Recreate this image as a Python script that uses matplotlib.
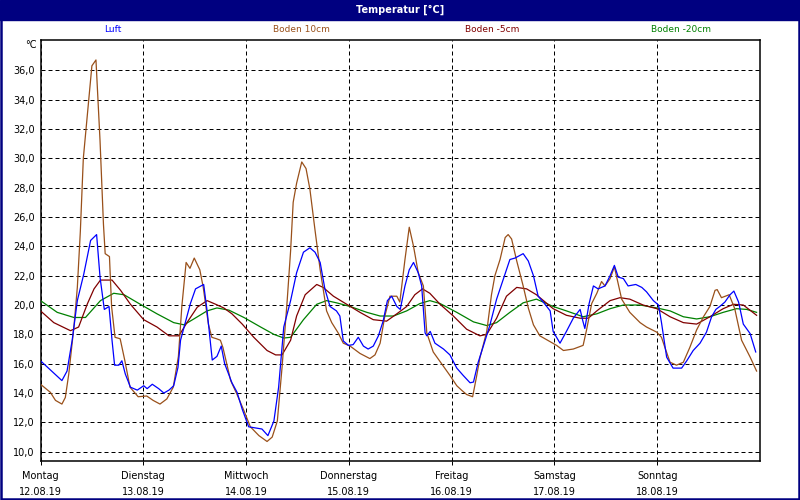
import matplotlib
matplotlib.use("Agg")
import matplotlib.pyplot as plt
from matplotlib.patches import Rectangle

# hours since Monday 12.08.19 00:00 and temperatures in degC
luft_h = [0, 5, 6.2, 7.4, 8.6, 10.1, 11.7, 13.1, 13.9, 14.9, 16, 16.7, 17.3, 18.3, 19, 19.8, 21, 22.6,
          24.1, 24.9, 26.1, 27.6, 28.8, 30, 31.1, 32.1, 32.7, 33.9, 35, 36.2, 38.1, 38.9, 40.1, 41.2,
          42.2, 43, 44.7, 45.9, 47.1, 48.6, 51.7, 53.1, 54.5, 55.6, 56.8, 58.4, 59.8, 61.4, 62.9, 64.1,
          65.3, 66.4, 67.6, 69.1, 69.9, 70.7, 71.9, 73, 74.2, 75.4, 76.5, 77.7, 78.9, 80, 81, 82, 83.2,
          84, 85.1, 86.1, 87.1, 88.2, 89, 89.8, 90.2, 91, 92.1, 94.1, 95.6, 97.2, 98.7, 100.3, 101.1,
          102.2, 103.4, 104.9, 106.5, 108, 109.6, 110.8, 112.7, 113.9, 115.1, 116.2, 117.4, 119, 119.7,
          121.3, 122.8, 124.4, 126, 126.6, 127.1, 128.1, 129.1, 130.2, 131.8, 133, 134, 134.9, 136.1,
          137.2, 139, 140.4, 141.5, 143.1, 144.3, 145, 146.2, 147.7, 149.7, 150.9, 152.4, 154, 155.5,
          156.7, 157.7, 158.6, 159.8, 161, 161.9, 163, 164.1, 165.7, 167]
luft_t = [16.2, 14.85, 15.5, 17.6, 20.3, 22.1, 24.4, 24.8, 21.9, 19.7, 19.9, 17.6, 15.9, 15.9, 16.2, 15.3, 14.4, 14.2,
          14.5, 14.3, 14.6, 14.3, 14.0, 14.2, 14.5, 15.75, 17.6, 18.9, 20.1, 21.1, 21.4, 19.6, 16.25, 16.5,
          17.2, 16.0, 14.7, 14.05, 12.9, 11.7, 11.55, 11.1, 12.1, 14.4, 18.5, 20.3, 22.2, 23.6, 23.9, 23.6,
          22.9, 21.1, 19.9, 19.6, 19.25, 17.55, 17.25, 17.3, 17.8, 17.2, 17.0, 17.2, 17.9, 18.9, 20.3, 20.6, 19.9,
          19.7, 21.3, 22.4, 22.9, 22.2, 21.3, 18.1, 17.9, 18.2, 17.4, 17.0, 16.6, 15.7, 15.2, 14.7, 14.75,
          16.1, 17.2, 18.6, 20.4, 21.7, 23.1, 23.2, 23.5, 23.0, 22.0, 20.6, 20.2, 19.6, 18.2,
          17.4, 18.2, 19.1, 19.7, 18.95, 18.4, 20.1, 21.3, 21.1, 21.3, 22.0, 22.7, 21.9, 21.8,
          21.3, 21.4, 21.2, 20.9, 20.3, 20.0, 18.8, 16.45, 15.7, 15.7, 16.2, 16.9, 17.4, 18.15,
          19.2, 19.7, 19.9, 20.2, 20.7, 20.95, 20.2, 18.7, 18.05, 16.8]

boden10_h = [0, 2.3, 3.5, 5, 5.8, 6.6, 7.8, 8.6, 9.3, 10, 12, 12.95, 13.9, 14.7, 15.1, 16.1, 16.6, 17.4,
             18.6, 19.7, 20.9, 22.8, 24.8, 26.3, 27.9, 29.5, 31, 32.2, 33, 34, 34.9, 35.9, 37.2, 38,
             39.2, 40, 41.1, 42, 42.6, 44.4, 45.9, 47.5, 49, 51, 52.9, 54.1, 55.3, 56.4, 57.6, 58.4,
             59, 59.8, 61, 62, 62.9, 64.1, 65.3, 66, 66.8, 68, 69.5, 70.7, 72.3, 74.6, 76.9, 78.1,
             79.3, 80.4, 81.6, 83.2, 83.9, 85.1, 86.1, 87.1, 88.2, 89.4, 90.2, 91.7, 94, 95.6, 97.2,
             98.3, 99.5, 100.9, 101.8, 102.6, 104.2, 105.3, 106.1, 107.3, 108.5, 109.2, 110, 111.2,
             112.7, 113.9, 115.1, 116.6, 119, 120.5, 122.1, 124.4, 126.7, 127.5, 128.7, 129.9, 131,
             131.8, 133, 134, 134.7, 135.7, 137.6, 140, 141.5, 143.9, 145, 145.8, 147, 148.5, 150.1,
             151.6, 153.2, 154.8, 156.3, 157.5, 158, 159, 160.8, 162.1, 163.7, 165.7, 167.2]
boden10_t = [14.6, 14.05, 13.5, 13.25, 13.7, 15.3, 18.5, 21.2, 25.0, 30.0, 36.3, 36.7, 31.2, 25.5, 23.5, 23.3, 19.9, 17.8,
             17.7, 16.2, 14.4, 13.75, 13.8, 13.5, 13.25, 13.6, 14.4, 16.5, 19.9, 22.9, 22.5, 23.2, 22.4, 21.2,
             18.7, 17.8, 17.7, 17.6, 17.1, 14.85, 13.9, 12.8, 11.7, 11.1, 10.7, 11.0, 12.1, 15.75, 20.3, 23.7,
             27.0, 28.3, 29.75, 29.3, 27.9, 25.1, 22.4, 21.1, 19.6, 18.8, 18.1, 17.4, 17.2, 16.7, 16.35, 16.6,
             17.4, 19.25, 20.6, 20.6, 20.2, 23.1, 25.3, 24.0, 22.2, 21.3, 18.1, 16.8, 15.85, 15.2, 14.5,
             14.2, 13.9, 13.75, 15.1, 16.4, 18.2, 20.7, 22.0, 23.1, 24.6, 24.8, 24.5, 23.0,
             21.3, 19.8, 18.65, 17.9, 17.5, 17.25, 16.9, 17.0, 17.25, 18.3, 20.1, 20.8, 21.6,
             21.3, 21.8, 22.6, 21.7, 20.4, 19.5, 18.8, 18.5, 18.15, 17.8, 17.1, 16.1, 15.9, 16.1,
             17.1, 18.3, 19.2, 19.9, 21.0, 21.05, 20.5, 20.7, 19.75, 17.6, 16.45, 15.5]

boden5_h = [0, 3.1, 7, 8.9, 10.9, 12.5, 14, 16.7, 18.7, 21, 24.1, 27.2, 30, 32.3, 34.2, 36.6, 38.9, 40.9,
            42.8, 44.7, 47.1, 49.8, 52.9, 54.9, 56.4, 58.4, 59.8, 61.8, 64.5, 66, 68.4, 71.5, 74.6, 77.7,
            80.8, 83.2, 85.5, 87.4, 89.2, 90.9, 93.3, 96.4, 99.5, 102.6, 104.2, 106.5, 108.8, 111.2,
            113.5, 115.8, 119.7, 122.8, 126, 127.9, 129.9, 133, 135.3, 137.6, 140.7, 143.9, 147, 150.1,
            153.2, 156.3, 159.4, 161.8, 164.1, 167.2]
boden5_t = [19.6, 18.8, 18.25, 18.5, 20.05, 21.1, 21.7, 21.7, 21.0, 20.05, 19.0, 18.5, 17.9, 17.9, 18.8, 19.85, 20.3, 20.05,
            19.8, 19.4, 18.7, 17.8, 16.9, 16.6, 16.6, 17.6, 19.25, 20.7, 21.4, 21.2, 20.6, 20.05, 19.5, 19.0,
            18.9, 19.4, 19.9, 20.7, 21.1, 20.8, 20.05, 19.25, 18.35, 17.9, 18.0, 19.1, 20.6, 21.2,
            21.1, 20.7, 19.75, 19.3, 19.1, 19.1, 19.6, 20.3, 20.5, 20.4, 20.0, 19.75, 19.2, 18.8,
            18.7, 19.2, 19.75, 20.05, 20.0, 19.3]

boden20_h = [0, 3.9, 7.8, 10.5, 14, 17.1, 19.5, 23.3, 27.2, 31.1, 33.5, 35.8, 38.9, 41.2, 44, 47.5, 51.4,
             54.5, 56.8, 58.4, 61.4, 64.5, 66.8, 69.1, 72.3, 76.2, 79.3, 82.4, 85.5, 88.6, 90.9, 93.3,
             97.2, 101.1, 104.2, 106.5, 109.6, 112.7, 115.8, 119.7, 122.8, 126.7, 129.9, 133, 136.1,
             140, 143.9, 147, 150.1, 153.2, 156.3, 159.4, 162.5, 164.9, 167.2]
boden20_t = [20.3, 19.5, 19.15, 19.15, 20.3, 20.8, 20.7, 20.05, 19.4, 18.8, 18.65, 19.05, 19.6, 19.8, 19.65, 19.15, 18.5,
             18.0, 17.75, 17.8, 19.0, 20.05, 20.3, 20.15, 19.9, 19.5, 19.25, 19.25, 19.6, 20.1, 20.3, 20.1,
             19.5, 18.85, 18.6, 18.8, 19.5, 20.15, 20.4, 19.9, 19.6, 19.2, 19.4, 19.75, 20.0,
             20.0, 19.8, 19.6, 19.2, 19.05, 19.2, 19.5, 19.75, 19.7, 19.5]

day_names = ["Montag", "Dienstag", "Mittwoch", "Donnerstag", "Freitag", "Samstag", "Sonntag"]
day_dates = ["12.08.19", "13.08.19", "14.08.19", "15.08.19", "16.08.19", "17.08.19", "18.08.19"]
y_ticks = [10, 12, 14, 16, 18, 20, 22, 24, 26, 28, 30, 32, 34, 36]

series_names = ["Luft", "Boden 10cm", "Boden -5cm", "Boden -20cm"]
series_colors = ["#0000FF", "#99501A", "#800000", "#008000"]

NAVY = "#000080"
plt.rcParams['font.family'] = ['DejaVu Sans']

fig = plt.figure(figsize=(8, 5), dpi=100)
fig.patch.set_facecolor("white")

# window frame + title bar
fig.patches.append(Rectangle((0.001, 0.002), 0.998, 0.996, transform=fig.transFigure,
                             fill=False, edgecolor=NAVY, linewidth=1.8, zorder=0))
fig.patches.append(Rectangle((0, 1 - 20 / 500), 1, 20 / 500, transform=fig.transFigure,
                             facecolor=NAVY, edgecolor=NAVY, zorder=1))
fig.text(0.5, 1 - 10 / 500, "Temperatur [°C]", color="white", fontsize=7, fontweight="bold",
         ha="center", va="center")

ax = fig.add_axes([40.5 / 800, 1 - 461 / 500, (760 - 40.5) / 800, (461 - 40) / 500])
ax.set_facecolor("white")

data = [(luft_h, luft_t), (boden10_h, boden10_t), (boden5_h, boden5_t), (boden20_h, boden20_t)]
order = [3, 2, 1, 0]
for i in order:
    h, t = data[i]
    ax.plot(h, t, color=series_colors[i], linewidth=0.9, zorder=3 + (3 - i))

ax.set_xlim(0, 168)
ax.set_ylim(9.37, 38.06)

ax.set_yticks(y_ticks)
ax.set_yticklabels([("%.1f" % v).replace(".", ",") for v in y_ticks])
ax.set_xticks([24 * i for i in range(7)])
ax.set_xticklabels([n + "\n" + d for n, d in zip(day_names, day_dates)], linespacing=1.75)

ax.grid(True, color="black", linestyle=(0, (4, 3)), linewidth=0.72)
ax.tick_params(axis="y", length=0, pad=4, labelsize=7, colors="black")
ax.tick_params(axis="x", length=3, width=0.72, pad=4, labelsize=7, direction="out")
for s in ax.spines.values():
    s.set_linewidth(1.1)
    s.set_color("black")

# legend as coloured labels across the top
legend_x = [113, 301, 492, 681]
for name, col, xp in zip(series_names, series_colors, legend_x):
    fig.text(xp / 800, 1 - 30 / 500, name, color=col, fontsize=6.5, ha="center", va="center")

fig.text(37 / 800, 1 - 45 / 500, "°C", fontsize=7, ha="right", va="center")

fig.savefig("out.png", dpi=100)
